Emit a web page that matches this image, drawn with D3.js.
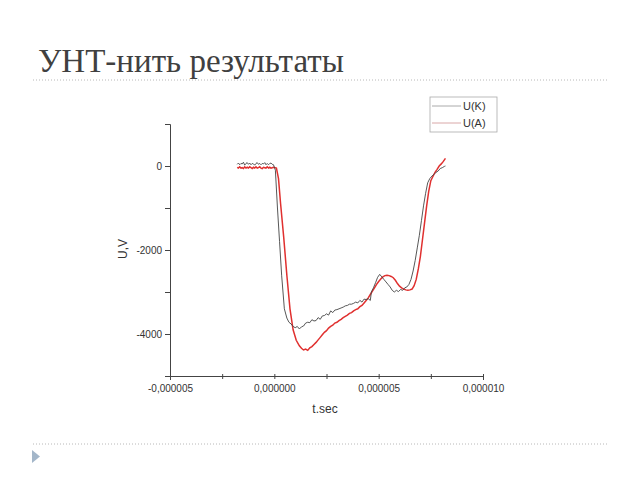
<!DOCTYPE html>
<html><head><meta charset="utf-8">
<script src="https://cdn.jsdelivr.net/npm/d3@7"></script>
<style>body{margin:0;background:#fff}svg{display:block}</style>
</head><body>
<script>
// time in microseconds, voltage in V
const titleText = "УНТ-нить результаты";
const seriesNames = ["U(K)", "U(A)"];
const xTicks = [-5, 0, 5, 10];
const xTickLabels = ["-0,000005", "0,000000", "0,000005", "0,000010"];
const yTicks = [0, -2000, -4000];

const tK = [-1.78,-1.72,-1.66,-1.60,-1.54,-1.48,-1.42,-1.36,-1.30,-1.24,-1.18,-1.12,-1.06,-1.00,-0.94,-0.88,-0.82,-0.76,-0.70,-0.64,-0.58,-0.52,-0.46,-0.40,-0.34,-0.28,-0.22,-0.16,-0.10,-0.04,
  0.05,0.15,0.25,0.35,0.48,0.6,0.7,0.8,0.9,1.0,1.1,1.2,1.3,1.4,1.5,1.6,1.7,1.8,1.9,2.0,2.1,2.2,2.3,2.4,2.5,2.6,2.7,2.8,2.9,3.0,3.1,3.2,3.3,3.4,3.5,3.6,3.7,3.8,3.9,4.0,4.1,4.2,4.3,4.4,4.5,4.6,
  4.65,4.75,4.85,4.95,5.05,5.15,5.25,5.35,5.45,5.55,5.65,5.75,5.85,5.95,6.05,6.15,6.25,6.35,6.45,6.55,6.65,6.75,6.85,6.95,7.05,7.15,7.25,7.35,7.45,7.55,7.65,7.75,7.85,7.95,8.05,8.15,8.2];
const uK = [40,70,30,60,50,90,20,60,80,40,70,30,60,50,20,60,80,40,60,30,60,50,80,30,60,30,60,70,40,30,
  -100,-1000,-1800,-2600,-3400,-3620,-3720,-3760,-3820,-3850,-3820,-3880,-3830,-3810,-3740,-3720,-3730,-3660,-3690,-3680,-3610,-3650,-3570,-3560,-3520,-3550,-3450,-3490,-3430,-3420,-3400,-3380,-3360,-3330,-3320,-3290,-3290,-3270,-3240,-3260,-3200,-3240,-3170,-3180,-3160,-3200,
  -3000,-2900,-2780,-2650,-2580,-2640,-2700,-2760,-2820,-2880,-2960,-3000,-2960,-2990,-2940,-2960,-2900,-2880,-2820,-2700,-2500,-2250,-1950,-1650,-1300,-950,-650,-400,-300,-240,-200,-150,-120,-60,-40,-10,0];

const tA = [-1.78,-1.72,-1.66,-1.60,-1.54,-1.48,-1.42,-1.36,-1.30,-1.24,-1.18,-1.12,-1.06,-1.00,-0.94,-0.88,-0.82,-0.76,-0.70,-0.64,-0.58,-0.52,-0.46,-0.40,-0.34,-0.28,-0.22,-0.16,-0.10,-0.04,
  0.1,0.2,0.3,0.45,0.6,0.75,0.9,1.05,1.2,1.3,1.4,1.5,1.6,1.7,1.8,1.9,2.0,2.1,2.2,2.3,2.4,2.5,2.6,2.7,2.8,2.9,3.0,3.1,3.2,3.3,3.4,3.5,3.6,3.7,3.8,3.9,4.0,4.1,4.2,4.3,4.4,4.5,4.6,4.7,4.8,4.9,5.0,
  5.1,5.2,5.3,5.4,5.5,5.6,5.7,5.8,5.9,6.0,6.1,6.2,6.3,6.4,6.5,6.6,6.7,6.8,6.9,7.0,7.1,7.2,7.3,7.4,7.5,7.6,7.7,7.8,7.9,8.0,8.1,8.2];
const uA = [-30,-50,-20,-50,-40,-60,-20,-50,-30,-50,-20,-40,-60,-30,-50,-20,-50,-40,-20,-50,-60,-30,-40,-50,-20,-50,-30,-50,-40,-30,
  -50,-300,-900,-1700,-2600,-3400,-3900,-4150,-4280,-4340,-4380,-4360,-4390,-4330,-4300,-4250,-4200,-4140,-4080,-4020,-3960,-3920,-3860,-3820,-3790,-3740,-3720,-3680,-3650,-3610,-3580,-3550,-3510,-3490,-3450,-3420,-3400,-3350,-3320,-3260,-3200,-3140,-3060,-2980,-2900,-2820,-2750,
  -2690,-2640,-2610,-2600,-2610,-2630,-2660,-2720,-2800,-2860,-2900,-2930,-2950,-2960,-2950,-2930,-2850,-2700,-2450,-2150,-1750,-1350,-950,-600,-350,-250,-150,-80,0,50,110,180];

const W = 640, H = 480;
const svg = d3.select("body").append("svg").attr("width", W).attr("height", H);

svg.append("text").attr("x", 38).attr("y", 72)
  .attr("font-family", "'Liberation Serif', 'DejaVu Serif', serif")
  .attr("font-size", 33).attr("fill", "#404040").text(titleText);

[80, 444].forEach(y => svg.append("line").attr("x1", 33).attr("x2", 607)
  .attr("y1", y).attr("y2", y).attr("stroke", "#b8b8b8")
  .attr("stroke-width", 1).attr("stroke-dasharray", "1,2"));

svg.append("path").attr("d", "M32,450 L40,456.5 L32,463 Z").attr("fill", "#a3b6c9");

const x = d3.scaleLinear().domain([-5, 10]).range([170, 483]);
const y = d3.scaleLinear().domain([-5000, 1000]).range([376, 124]);

const fontAx = "'Liberation Sans', Arial, sans-serif";

const xAx = svg.append("g").attr("transform", "translate(0,376)")
  .call(d3.axisBottom(x).tickValues([-5,-2.5,0,2.5,5,7.5,10])
    .tickSize(4).tickFormat(d => { const i = xTicks.indexOf(d); return i >= 0 ? xTickLabels[i] : ""; }));
xAx.select(".domain").attr("stroke", "#444");
xAx.selectAll(".tick line").attr("stroke", "#444").attr("y1", -2).attr("y2", 3);
xAx.selectAll(".tick text").attr("font-family", fontAx).attr("font-size", 10).attr("fill", "#333").attr("dy", "0.9em");

const yAx = svg.append("g").attr("transform", "translate(170,0)")
  .call(d3.axisLeft(y).tickValues([1000,0,-1000,-2000,-3000,-4000,-5000]).tickSize(5)
    .tickFormat(d => yTicks.includes(d) ? String(d) : ""));
yAx.select(".domain").attr("stroke", "#444");
yAx.selectAll(".tick line").attr("stroke", "#444");
yAx.selectAll(".tick text").attr("font-family", fontAx).attr("font-size", 10).attr("fill", "#333").attr("x", -8);

svg.append("text").attr("x", 325).attr("y", 413).attr("text-anchor", "middle")
  .attr("font-family", fontAx).attr("font-size", 12).attr("fill", "#333").text("t.sec");
svg.append("text").attr("transform", "translate(127,249) rotate(-90)").attr("text-anchor", "middle")
  .attr("font-family", fontAx).attr("font-size", 12).attr("fill", "#333").text("U,V");

const line = d3.line().x(d => x(d[0])).y(d => y(d[1]));
svg.append("path").datum(tA.map((t, i) => [t, uA[i]])).attr("d", line)
  .attr("fill", "none").attr("stroke", "#e0302f").attr("stroke-width", 1.5);
svg.append("path").datum(tK.map((t, i) => [t, uK[i]])).attr("d", line)
  .attr("fill", "none").attr("stroke", "#444").attr("stroke-width", 0.9);

const lg = svg.append("g");
lg.append("rect").attr("x", 430).attr("y", 97).attr("width", 67).attr("height", 35)
  .attr("fill", "#fff").attr("stroke", "#aaa").attr("stroke-width", 0.8);
const legColors = ["#aaa", "#d9a8a8"];
seriesNames.forEach((n, i) => {
  const yy = 106 + i * 17;
  lg.append("line").attr("x1", 432).attr("x2", 461).attr("y1", yy).attr("y2", yy)
    .attr("stroke", legColors[i]).attr("stroke-width", 1);
  lg.append("text").attr("x", 463).attr("y", yy + 4).attr("font-family", fontAx)
    .attr("font-size", 11).attr("fill", "#333").text(n);
});
</script>
</body></html>
